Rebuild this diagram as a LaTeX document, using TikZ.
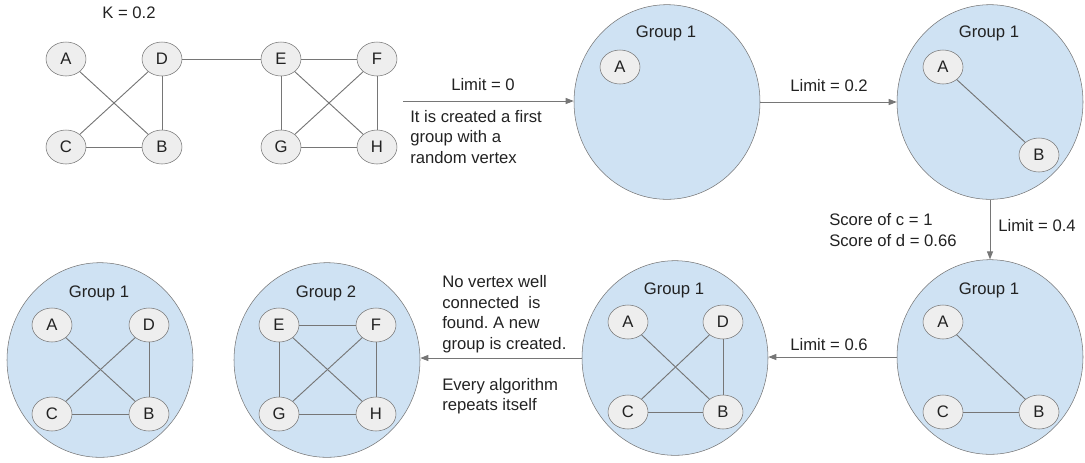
\documentclass[tikz,border=0pt]{standalone}
\usepackage{fontspec}
\setmainfont{Liberation Sans}
\usetikzlibrary{shapes.geometric, arrows.meta}
\definecolor{groupblue}{RGB}{207, 226, 243}
\definecolor{vertexgray}{RGB}{238, 238, 238}
\definecolor{linegray}{RGB}{118, 118, 118}
\definecolor{textdark}{RGB}{34, 34, 34}
\frenchspacing

\begin{document}
\begin{tikzpicture}[x=0.75pt, y=-0.75pt, font=\fontsize{12.5}{15.4}\selectfont, text=textdark,
    vertex/.style={ellipse, draw=linegray, fill=vertexgray, minimum width=30pt, minimum height=25.5pt, inner sep=0pt},
    groupc/.style={ellipse, draw=linegray, fill=groupblue, minimum width=139.5pt, minimum height=146pt, inner sep=0pt},
    link/.style={draw=linegray, line width=0.7pt},
    flow/.style={draw=linegray, line width=0.7pt, -{Triangle[length=6pt, width=4.5pt]}},
    note/.style={align=left, anchor=west, inner sep=0pt}]
    \useasboundingbox (0,0) rectangle (1085,462);

    % Input graph
    \node (kval) at (129,13) {K = 0.2};
    \foreach \n/\x/\y in {A/66/59, D/162/59, E/281/59, F/377/59, C/66/147, B/162/147, G/281/147, H/377/147} {
        \node[vertex] (k\n) at (\x,\y) {\n};
    }
    \foreach \a/\b in {A/B, C/D, D/B, C/B, D/E, E/F, E/G, E/H, F/G, F/H, G/H} {
        \draw[link] (k\a) -- (k\b);
    }

    % Groups
    \node[groupc] (s1) at (667,102) {};
    \node[groupc] (s2) at (990,102) {};
    \node[groupc] (s3) at (990,357) {};
    \node[groupc] (s4) at (675,358) {};
    \node[groupc] (s5) at (327,360) {};
    \node[groupc] (s6) at (100,360) {};
    \foreach \s/\x/\y/\t in {s1/666/33/1, s2/989/33/1, s3/989/290/1, s4/674/290/1, s5/326/293/2, s6/99/293/1} {
        \node (\s title) at (\x,\y) {Group \t};
    }

    % Vertices inside groups
    \foreach \s/\n/\x/\y in {s1/A/620/67, s2/A/943/67, s2/B/1039/155,
        s3/A/943/322, s3/C/943/412, s3/B/1039/412,
        s4/A/628/322, s4/D/723/322, s4/C/628/412, s4/B/723/412,
        s5/E/279/325, s5/F/376/325, s5/G/279/414, s5/H/376/414,
        s6/A/52/325, s6/D/149/325, s6/C/52/414, s6/B/149/414} {
        \node[vertex] (\s\n) at (\x,\y) {\n};
    }
    \foreach \a/\b in {s2A/s2B, s3A/s3B, s3C/s3B,
        s4A/s4B, s4C/s4D, s4D/s4B, s4C/s4B,
        s5E/s5F, s5E/s5G, s5E/s5H, s5F/s5G, s5F/s5H, s5G/s5H,
        s6A/s6B, s6C/s6D, s6D/s6B, s6C/s6B} {
        \draw[link] (\a) -- (\b);
    }

    % Steps
    \coordinate (start) at (403,101);
    \draw[flow] (start) -- (start -| s1.west);
    \node (lim0) at (483,85) {Limit = 0};
    \node[note] (first) at (410,137) {It is created a first\\group with a\\random vertex};

    \draw[flow] (s1.east) -- (s2.west);
    \node (lim2) at (829,86) {Limit = 0.2};

    \draw[flow] (s2.south) -- (s3.north);
    \node (lim4) at (1037,226) {Limit = 0.4};
    \node[note] (score) at (829,230) {Score of c = 1\\Score of d = 0.66};

    \draw[flow] (s3.west) -- (s3.west -| s4.east);
    \node (lim6) at (829,345) {Limit = 0.6};

    \draw[flow] (s4.west) -- (s4.west -| s5.east);
    \node[note] (novert) at (442,314) {No vertex well\\connected\ \ is\\found. A new\\group is created.};
    \node[note] (repeat) at (442,396) {Every algorithm\\repeats itself};
\end{tikzpicture}
\end{document}
